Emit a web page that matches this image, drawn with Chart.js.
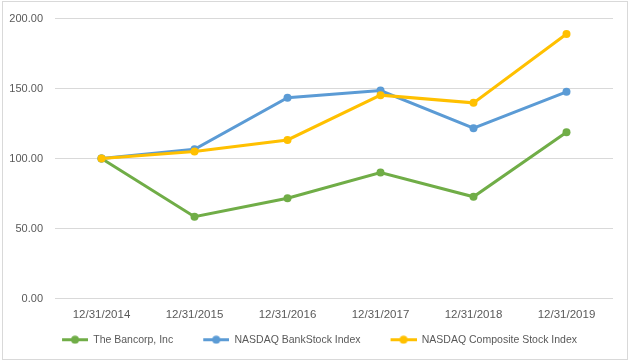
<!DOCTYPE html>
<html>
<head>
<meta charset="utf-8">
<script src="https://cdn.jsdelivr.net/npm/chart.js@4.4.1/dist/chart.umd.min.js"></script>
<style>
  html, body { margin: 0; padding: 0; background: #fff; }
  #frame {
    position: absolute; left: 2px; top: 1px;
    width: 624px; height: 357px;
    border: 1px solid #d9d9d9;
  }
  #chart { position: absolute; left: 0; top: 0; }
</style>
</head>
<body>
<div id="frame"></div>
<canvas id="chart" width="630" height="362"></canvas>
<script>
// values
const years = ["12/31/2014", "12/31/2015", "12/31/2016", "12/31/2017", "12/31/2018", "12/31/2019"];
const bancorp = [100.0, 58.4, 71.6, 90.0, 72.7, 118.8];
const bankIndex = [100.0, 106.6, 143.4, 148.6, 121.7, 147.7];
const compositeIndex = [100.0, 105.1, 113.3, 145.3, 139.8, 189.0];
const seriesNames = ["The Bancorp, Inc", "NASDAQ BankStock Index", "NASDAQ Composite Stock Index"];
const colors = ["#70ad47", "#5b9bd5", "#ffc000"];
const yTicks = [0, 50, 100, 150, 200];

const fontFamily = "'Liberation Sans', Arial, sans-serif";
const textColor = "#595959";

// legend gap between items is baked into the marker image (blank left part)
// so labels.padding can stay small and the legend stays short
var markerGap = 26;

// little "line with a dot" picture for the legend, like Excel does it
function legendMarker(color) {
  var c = document.createElement("canvas");
  c.width = 26 + markerGap;
  c.height = 9;
  var ctx = c.getContext("2d");
  ctx.strokeStyle = color;
  ctx.lineWidth = 3;
  ctx.beginPath();
  ctx.moveTo(markerGap, 4.5);
  ctx.lineTo(markerGap + 26, 4.5);
  ctx.stroke();
  ctx.fillStyle = color;
  ctx.beginPath();
  ctx.arc(markerGap + 13, 4.5, 4, 0, Math.PI * 2);
  ctx.fill();
  return c;
}

function makeSet(label, data, color) {
  return {
    label: label,
    data: data,
    borderColor: color,
    backgroundColor: color,
    borderWidth: 3,
    pointRadius: 4,
    pointHoverRadius: 4,
    pointBorderWidth: 0,
    tension: 0,
    fill: false,
  };
}

const datasets = [
  makeSet(seriesNames[0], bancorp, colors[0]),
  makeSet(seriesNames[1], bankIndex, colors[1]),
  makeSet(seriesNames[2], compositeIndex, colors[2]),
];

// draw the later datasets on top (yellow over blue over green)
datasets.forEach(function (d, i) { d.order = datasets.length - i; });

const markers = colors.map(legendMarker);

new Chart(document.getElementById("chart"), {
  type: "line",
  data: { labels: years, datasets: datasets },
  options: {
    responsive: false,
    animation: false,
    devicePixelRatio: 1,
    layout: { padding: { top: 14, right: 17, bottom: 7, left: 0 } },
    plugins: {
      tooltip: { enabled: false },
      legend: {
        position: "bottom",
        labels: {
          usePointStyle: true,
          pointStyleWidth: 26 + markerGap,
          padding: 4,
          color: textColor,
          font: { family: fontFamily, size: 10.5 },
          generateLabels: function (chart) {
            return chart.data.datasets.map(function (d, i) {
              return {
                text: d.label,
                fillStyle: colors[i],
                strokeStyle: colors[i],
                lineWidth: 0,
                pointStyle: markers[i],
                fontColor: textColor,
                hidden: false,
                datasetIndex: i,
              };
            });
          },
        },
      },
    },
    scales: {
      x: {
        offset: true,
        grid: { display: false, drawTicks: false },
        border: { display: false },
        ticks: {
          color: textColor,
          padding: 9,
          maxRotation: 0,
          font: { family: fontFamily, size: 11.5 },
        },
        afterFit: function (scale) { scale.height = 32; },
      },
      y: {
        min: 0,
        max: 200,
        grid: { color: "#d9d9d9", lineWidth: 1, drawTicks: false },
        border: { display: false },
        afterBuildTicks: function (scale) {
          scale.ticks = yTicks.map(function (v) { return { value: v }; });
        },
        ticks: {
          color: textColor,
          padding: 12,
          font: { family: fontFamily, size: 11 },
          callback: function (v) { return Number(v).toFixed(2); },
        },
        afterFit: function (scale) { scale.width = 55; },
      },
    },
  },
});
</script>
</body>
</html>
